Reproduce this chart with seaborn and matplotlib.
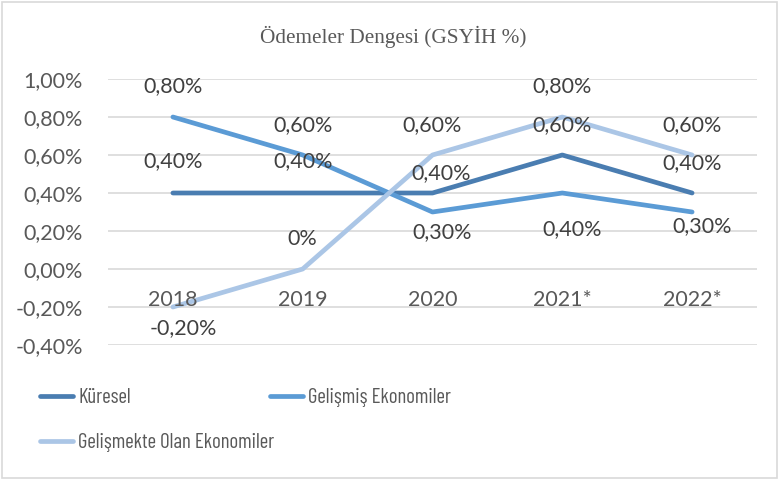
import matplotlib
matplotlib.use("Agg")
import matplotlib.pyplot as plt
import seaborn as sns
import pandas as pd
from matplotlib.patches import Rectangle
from matplotlib.lines import Line2D
from matplotlib import font_manager

years = ["2018", "2019", "2020", "2021*", "2022*"]
series_names = ["Küresel", "Gelişmiş Ekonomiler", "Gelişmekte Olan Ekonomiler"]
kuresel = [0.40, 0.40, 0.40, 0.60, 0.40]
gelismis = [0.80, 0.60, 0.30, 0.40, 0.30]
gelismekte = [-0.20, 0.00, 0.60, 0.80, 0.60]
label_texts = {
    "Küresel": ["0,40%", "0,40%", "0,40%", "0,60%", "0,40%"],
    "Gelişmiş Ekonomiler": ["0,80%", "0,60%", "0,30%", "0,40%", "0,30%"],
    "Gelişmekte Olan Ekonomiler": ["-0,20%", "0%", "0,60%", "0,80%", "0,60%"],
}
yticks = [-0.4, -0.2, 0.0, 0.2, 0.4, 0.6, 0.8, 1.0]
ytick_labels = ["-0,40%", "-0,20%", "0,00%", "0,20%", "0,40%", "0,60%", "0,80%", "1,00%"]
title = "Ödemeler Dengesi (GSYİH %)"

colors = {"Küresel": "#4a7db1", "Gelişmiş Ekonomiler": "#5b9bd5",
          "Gelişmekte Olan Ekonomiler": "#abc6e6"}

# label offsets in pixels (dx right, dy up)
offsets_px = {
    "Küresel": [(0, 32), (0, 32), (9, 20), (0, 30), (0, 30)],
    "Gelişmiş Ekonomiler": [(0, 31), (0, 30), (10, -20), (10, -36), (10, -14)],
    "Gelişmekte Olan Ekonomiler": [(10, -21), (0, 30), (0, 30), (0, 31), (0, 30)],
}

rows = []
for name, vals in zip(series_names, [kuresel, gelismis, gelismekte]):
    for i, (y, v) in enumerate(zip(years, vals)):
        rows.append({"idx": i, "year": y, "value": v, "series": name})
df = pd.DataFrame(rows)

available = set(f.name for f in font_manager.fontManager.ttflist)
legend_font = next((f for f in ["Barlow Condensed", "Barlow Semi Condensed", "Asap Condensed",
                                "Archivo Narrow"] if f in available), "Lato")

sns.set_theme(style="white")
plt.rcParams["font.family"] = ["Lato", "DejaVu Sans"]

FS = 15.5
LFS = 15 if legend_font != "Lato" else 11.5
W, H = 778, 479
fig = plt.figure(figsize=(W / 100, H / 100), dpi=100)
ax = fig.add_axes([108 / W, 1 - 345 / H, (757 - 108) / W, (345 - 79) / H])

for yv in yticks:
    ax.axhline(yv, color="#d9d9d9", lw=1.2, zorder=0)

sns.lineplot(data=df, x="idx", y="value", hue="series", hue_order=series_names,
             palette=colors, lw=3.4, sort=False, ax=ax, legend=False,
             solid_capstyle="round", zorder=3)

ax.set_xlim(-0.5, 4.5)
ax.set_ylim(-0.4, 1.0)
ax.set_xticks([])
ax.set_yticks(yticks)
ax.set_yticklabels(ytick_labels, fontsize=FS, color="#595959")
ax.tick_params(axis="y", length=0, pad=18)
ax.set_xlabel("")
ax.set_ylabel("")
for s in ax.spines.values():
    s.set_visible(False)

pt = 72 / 100
for name in series_names:
    sub = df[df.series == name]
    for (_, r), txt, (dx, dy) in zip(sub.iterrows(), label_texts[name], offsets_px[name]):
        ax.annotate(txt, (r["idx"], r["value"]), xytext=(dx * pt, dy * pt),
                    textcoords="offset points", ha="center", va="center",
                    fontsize=FS, color="#404040", zorder=5)

for i, y in enumerate(years):
    ax.annotate(y, (i, 0), xytext=(0, -31 * pt), textcoords="offset points",
                ha="center", va="center", fontsize=FS, color="#595959")

fig.text(393 / W, 1 - 37 / H, title, ha="center", va="center",
         fontsize=15.3, color="#595959", family=["Liberation Serif"])

# legend: two separate blocks to place the second column like the reference
lfs_px = LFS * 100 / 72
def leg(names, x_px, y_px):
    hs = [Line2D([0], [0], color=colors[n], lw=3.4, solid_capstyle="round") for n in names]
    return fig.legend(hs, names, loc="upper left", bbox_to_anchor=(x_px / W, 1 - y_px / H),
                      frameon=False, handlelength=33 / lfs_px, handletextpad=5 / lfs_px,
                      borderpad=0, borderaxespad=0, labelspacing=1.24, labelcolor="#595959",
                      prop={"family": [legend_font, "DejaVu Sans"], "size": LFS})

leg(["Küresel", "Gelişmekte Olan Ekonomiler"], 40, 388)
leg(["Gelişmiş Ekonomiler"], 270, 388)

fig.patches.append(Rectangle((1.5 / W, 1.5 / H), 1 - 3 / W, 1 - 3 / H, transform=fig.transFigure,
                             fill=False, edgecolor="#d9d9d9", lw=1.2))

fig.savefig("out.png", dpi=100, facecolor="white")
